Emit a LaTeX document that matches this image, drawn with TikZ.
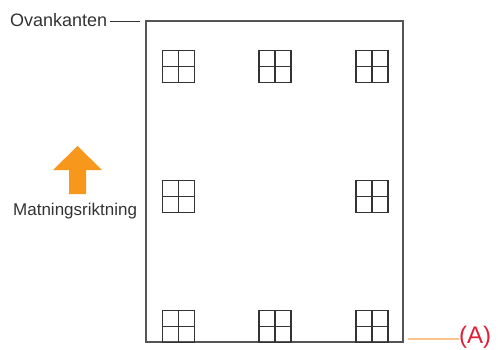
\documentclass[tikz,border=0pt]{standalone}
\usepackage{fontspec}
\setmainfont{Liberation Sans}
\usepackage{tikz}
\usetikzlibrary{arrows.meta,positioning}
\definecolor{frame}{HTML}{555555}
\definecolor{ink}{HTML}{333333}
\definecolor{feed}{HTML}{F7981D}
\definecolor{lead}{HTML}{F9C38A}
\definecolor{mark}{HTML}{E0203A}
\tikzset{
  sheet/.style={draw=frame,line width=2pt,minimum width=257pt,minimum height=321pt,inner sep=0pt},
  cell/.style={draw=ink,line width=1.3pt,minimum size=32pt,inner sep=0pt,
    path picture={\draw[ink,line width=1.3pt]
      (path picture bounding box.north) -- (path picture bounding box.south)
      (path picture bounding box.west) -- (path picture bounding box.east);}},
  lbl/.style={font=\fontsize{17}{20}\selectfont,color=ink,inner sep=0pt},
  leader/.style={draw=ink,line width=0.9pt},
}
\begin{document}
\begin{tikzpicture}[x=1pt,y=-1pt]
\useasboundingbox (0,0) rectangle (498,349);
\node[sheet] (page) at (274.5,181.5) {};
% marks on the sheet
\foreach \x/\n in {178.5/a,275/b,372/c}
  \node[cell] (top\n) at (\x,66.5) {};
\foreach \x/\n in {178.5/a,372/c}
  \node[cell] (mid\n) at (\x,196.5) {};
\foreach \x/\n in {178.5/a,275/b,372/c}
  \node[cell] (bot\n) at (\x,326.5) {};
% labels
\node[lbl,font=\fontsize{18}{21}\selectfont,anchor=base west] (ovan) at (10,26) {Ovankanten};
\coordinate (ovanend) at (140,21);
\draw[leader] (ovan.east |- ovanend) ++(3,0) -- (ovanend);
% feed direction
\fill[feed] (53,170) -- (77.5,146) -- (102,170) -- (86,170) -- (86,194) -- (69,194) -- (69,170) -- cycle;
\node[lbl,anchor=base west] (feedlbl) at (13,215) {Matningsriktning};
\coordinate (aend) at (408,339);
\node[font=\fontsize{24}{27}\selectfont,color=mark,anchor=base west,inner sep=0pt] (amark) at (459,343) {(A)};
\draw[lead,line width=1.2pt] (aend) -- (amark.west |- aend) ++(-2,0);
\end{tikzpicture}
\end{document}
